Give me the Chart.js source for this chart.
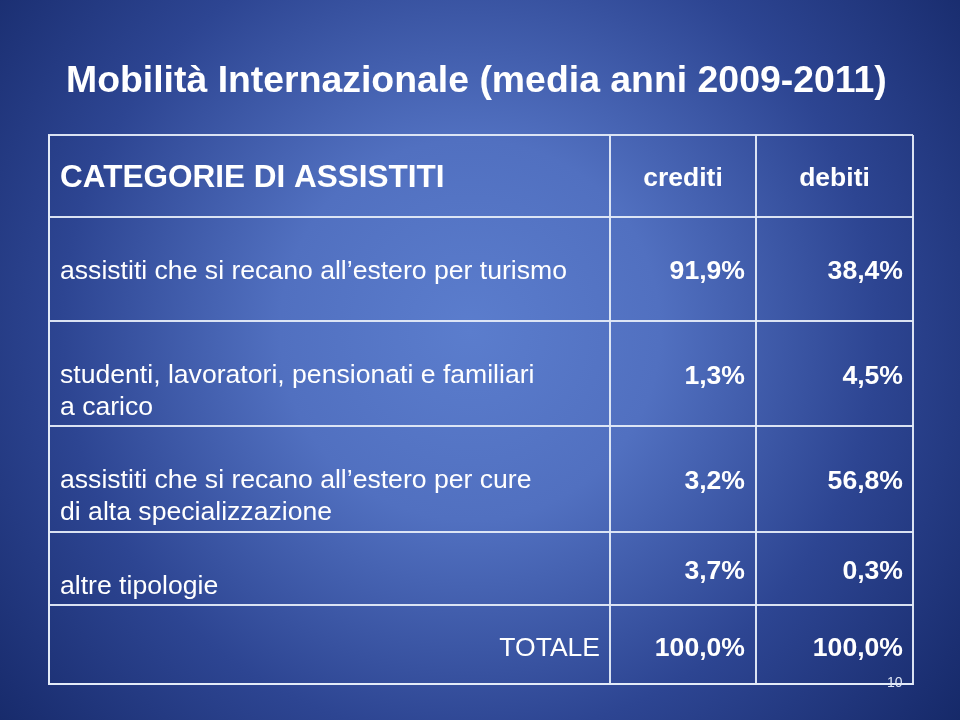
<!DOCTYPE html>
<html><head><meta charset="utf-8">
<script src="https://cdn.jsdelivr.net/npm/chart.js@4.4.1/dist/chart.umd.min.js"></script>
<style>html,body{margin:0;padding:0;background:#1a2d6e;}#wrap{width:960px;height:720px;position:relative;}</style>
</head><body><div id="wrap"><canvas id="c" width="960" height="720"></canvas></div>
<script>
// ---- content ----
const title = 'Mobilità Internazionale (media anni 2009-2011)';
const headers = ['CATEGORIE DI ASSISTITI', 'crediti', 'debiti'];
const categories = [
  ['assistiti che si recano all’estero per turismo'],
  ['studenti, lavoratori, pensionati e familiari', 'a carico'],
  ['assistiti che si recano all’estero per cure', 'di alta specializzazione'],
  ['altre tipologie']
];
const crediti = ['91,9%', '1,3%', '3,2%', '3,7%'];
const debiti = ['38,4%', '4,5%', '56,8%', '0,3%'];
const totalLabel = 'TOTALE';
const totals = ['100,0%', '100,0%'];
const pageNumber = '10';

// ---- layout (table geometry in scale units) ----
const colEdges = [0, 561, 707, 864];
const rowEdges = [0, 82, 186, 291, 397, 470, 549];

const FONT = "'Liberation Sans', Arimo, Arial, Helvetica, sans-serif";
const LINE = 'rgba(228,235,248,0.95)';

const tablePlugin = {
  id: 'tablePlugin',
  beforeDraw(chart) {
    const ctx = chart.ctx, W = chart.width, H = chart.height;
    ctx.save();
    const g = ctx.createRadialGradient(470, 330, 0, 470, 330, 680);
    g.addColorStop(0, '#5b7dcd');
    g.addColorStop(0.28, '#5170c0');
    g.addColorStop(0.6, '#2d4592');
    g.addColorStop(0.85, '#1b2f72');
    g.addColorStop(1, '#10235f');
    ctx.fillStyle = g;
    ctx.fillRect(0, 0, W, H);
    ctx.restore();
  },
  afterDraw(chart) {
    const ctx = chart.ctx;
    const xs = chart.scales.x, ys = chart.scales.y;
    const px = v => xs.getPixelForValue(v);
    const py = v => ys.getPixelForValue(v);
    ctx.save();
    ctx.fillStyle = '#ffffff';
    ctx.textBaseline = 'alphabetic';

    ctx.font = 'bold 37.4px ' + FONT;
    ctx.textAlign = 'left';
    ctx.fillText(title, 66, 92);

    const hTop = py(rowEdges[0]), hBot = py(rowEdges[1]);
    const hC = (hTop + hBot) / 2;
    ctx.font = 'bold 31.5px ' + FONT;
    ctx.textAlign = 'left';
    ctx.fillText(headers[0], px(colEdges[0]) + 11, hC + 11);
    ctx.font = 'bold 26.5px ' + FONT;
    ctx.textAlign = 'center';
    ctx.fillText(headers[1], (px(colEdges[1]) + px(colEdges[2])) / 2, hC + 10);
    ctx.fillText(headers[2], (px(colEdges[2]) + px(colEdges[3])) / 2, hC + 10);

    for (let i = 0; i < categories.length; i++) {
      const top = py(rowEdges[i + 1]), bot = py(rowEdges[i + 2]);
      const c = (top + bot) / 2;
      ctx.font = '26.6px ' + FONT;
      ctx.textAlign = 'left';
      categories[i].forEach((line, k) => {
        ctx.fillText(line, px(colEdges[0]) + 11, top + 62 + k * 32);
      });
      ctx.font = 'bold 26.6px ' + FONT;
      ctx.textAlign = 'right';
      ctx.fillText(crediti[i], px(colEdges[2]) - 11, c + 10);
      ctx.fillText(debiti[i], px(colEdges[3]) - 10, c + 10);
    }

    const n = categories.length;
    const tTop = py(rowEdges[n + 1]), tBot = py(rowEdges[n + 2]);
    const tC = (tTop + tBot) / 2;
    ctx.font = '26.5px ' + FONT;
    ctx.textAlign = 'right';
    ctx.fillText(totalLabel, px(colEdges[1]) - 10, tC + 11);
    ctx.font = 'bold 26.6px ' + FONT;
    ctx.fillText(totals[0], px(colEdges[2]) - 11, tC + 11);
    ctx.fillText(totals[1], px(colEdges[3]) - 10, tC + 11);

    ctx.font = '14px ' + FONT;
    ctx.fillStyle = '#dfe6f5';
    ctx.textAlign = 'left';
    ctx.fillText(pageNumber, 887, 687);
    ctx.restore();
  }
};

function build() {
  const gridOpts = { color: LINE, lineWidth: 2, drawTicks: false };
  new Chart(document.getElementById('c'), {
    type: 'scatter',
    data: { datasets: [] },
    options: {
      responsive: false,
      animation: false,
      events: [],
      layout: { padding: { left: 49, top: 135, right: 47, bottom: 36 } },
      plugins: { legend: { display: false }, tooltip: { enabled: false } },
      scales: {
        x: {
          type: 'linear', min: colEdges[0], max: colEdges[colEdges.length - 1],
          afterBuildTicks: s => { s.ticks = colEdges.map(v => ({ value: v })); },
          ticks: { display: false },
          grid: gridOpts,
          border: { color: LINE, width: 2 }
        },
        y: {
          type: 'linear', reverse: true, min: rowEdges[0], max: rowEdges[rowEdges.length - 1],
          afterBuildTicks: s => { s.ticks = rowEdges.map(v => ({ value: v })); },
          ticks: { display: false },
          grid: gridOpts,
          border: { color: LINE, width: 2 }
        }
      }
    },
    plugins: [tablePlugin]
  });
}

const loads = [
  document.fonts.load("26px 'Liberation Sans'"),
  document.fonts.load("bold 26px 'Liberation Sans'")
];
Promise.all(loads).then(build, build);
</script>
</body></html>
